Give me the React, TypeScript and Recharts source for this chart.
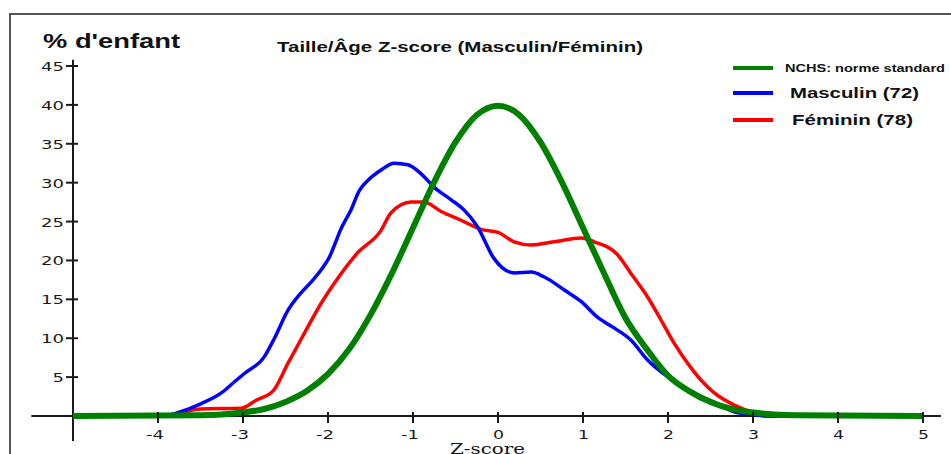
import React from 'react';
import { LineChart, Line, XAxis, YAxis, ReferenceLine, Legend } from 'recharts';

// Tick labels
const xTicks = [-4, -3, -2, -1, 0, 1, 2, 3, 4, 5];
const yTicks = [5, 10, 15, 20, 25, 30, 35, 40, 45];

// Series names
const nchsName = 'NCHS: norme standard';
const masculinName = 'Masculin (72)';
const femininName = 'Féminin (78)';
const legendOrder = [nchsName, masculinName, femininName];

// NCHS standard curve (Z-score, % of children)
const nchsZ = [-5, -3.5, -3.25, -3, -2.75, -2.5, -2.25, -2, -1.75, -1.5, -1.25, -1, -0.75, -0.5, -0.25, 0, 0.25, 0.5, 0.75, 1, 1.25, 1.5, 1.75, 2, 2.25, 2.5, 2.75, 3, 3.25, 3.5, 5];
const nchsPct = [0, 0.1, 0.2, 0.45, 0.9, 1.8, 3.2, 5.4, 8.6, 13, 18.3, 24.2, 30.1, 35.2, 38.7, 39.9, 38.7, 35.2, 30.1, 24.2, 18.3, 12.6, 8.6, 5.2, 3.2, 1.8, 0.9, 0.45, 0.2, 0.1, 0];

// Masculin (72)
const masculinZ = [-5, -3.93, -3.75, -3.49, -3.25, -3.1, -2.98, -2.75, -2.63, -2.47, -2.32, -2.2, -2.08, -1.98, -1.93, -1.85, -1.73, -1.63, -1.53, -1.38, -1.22, -1.06, -0.91, -0.75, -0.55, -0.4, -0.24, -0.05, 0.19, 0.39, 0.54, 0.78, 0.98, 1.17, 1.37, 1.56, 1.76, 2.0, 2.27, 2.54, 2.82, 3.25, 5];
const masculinPct = [0, 0, 0.5, 1.6, 3.0, 4.4, 5.5, 7.6, 10.0, 13.6, 15.8, 17.2, 18.8, 20.5, 21.8, 24.0, 26.5, 29, 30.3, 31.6, 32.5, 32.3, 31.2, 29.4, 27.8, 26.5, 24.3, 20.3, 18.4, 18.5, 17.9, 16.2, 14.7, 12.7, 11.3, 9.8, 7.2, 5.0, 3.1, 1.8, 0.4, 0, 0];

// Féminin (78)
const femininZ = [-5, -3.93, -3.7, -3.5, -3.02, -2.85, -2.64, -2.47, -2.32, -2.08, -1.93, -1.65, -1.38, -1.26, -1.02, -0.87, -0.67, -0.44, -0.2, 0, 0.19, 0.39, 0.66, 0.98, 1.13, 1.41, 1.56, 1.76, 1.92, 2.07, 2.23, 2.39, 2.54, 2.78, 3.01, 3.13, 5];
const femininPct = [0, 0, 0.5, 0.9, 1.0, 2.0, 3.3, 6.8, 9.8, 14.5, 17.0, 21.0, 23.8, 26.1, 27.5, 27.5, 26.3, 25.2, 24.0, 23.6, 22.4, 22.0, 22.4, 22.9, 22.4, 20.7, 18.4, 15.3, 12.3, 9.4, 6.8, 4.6, 3.0, 1.4, 0.4, 0, 0];

const toPoints = (zs: number[], vs: number[]) => zs.map((z, i) => ({ z, pct: vs[i] }));
const nchsData = toPoints(nchsZ, nchsPct);
const masculinData = toPoints(masculinZ, masculinPct);
const femininData = toPoints(femininZ, femininPct);

const AXIS = '#1a1a1a';

const XTick = (props: any) => {
  const { x, y, payload } = props;
  const label = String(payload.value);
  const len = label.length === 2 ? 18 : 11;
  return (
    <g>
      <line x1={x} x2={x} y1={y - 4} y2={y + 7} stroke={AXIS} strokeWidth={2} />
      <text x={x + 6} y={y + 23} textAnchor="end" fontFamily="DejaVu Sans" fontSize={13} fill={AXIS} textLength={len} lengthAdjust="spacingAndGlyphs">{label}</text>
    </g>
  );
};

const YTick = (props: any) => {
  const { x, y, payload } = props;
  const label = String(payload.value);
  return (
    <g>
      <line x1={x - 7} x2={x + 5} y1={y} y2={y} stroke={AXIS} strokeWidth={2} />
      <text x={x - 9} y={y + 5} textAnchor="end" fontFamily="DejaVu Sans" fontSize={13} fill={AXIS} textLength={11.5 * label.length} lengthAdjust="spacingAndGlyphs">{label}</text>
    </g>
  );
};

const legendRows = [
  { lineY: 13, textX: 60, len: 160, size: 10.5 },
  { lineY: 38, textX: 65, len: 129, size: 15 },
  { lineY: 65, textX: 67, len: 121, size: 15 },
];

const LegendContent = (props: any) => {
  const payload: any[] = props.payload || [];
  const items = legendOrder.map((n) => payload.find((p) => p.value === n)).filter(Boolean);
  return (
    <svg width={226} height={80} style={{ display: 'block' }}>
      {items.map((it: any, i: number) => {
        const r = legendRows[i];
        return (
          <g key={it.value}>
            <line x1={8} x2={48} y1={r.lineY} y2={r.lineY} stroke={it.color} strokeWidth={4} />
            <text x={r.textX} y={r.lineY + r.size * 0.36} fontFamily="Liberation Sans" fontWeight="bold" fontSize={r.size} fill="#111" textLength={r.len} lengthAdjust="spacingAndGlyphs">{it.value}</text>
          </g>
        );
      })}
    </svg>
  );
};

export default function App() {
  return (
    <div style={{ position: 'absolute', left: 0, top: 0, width: 951, height: 454, background: '#fff', overflow: 'hidden' }}>
      <LineChart width={951} height={454} margin={{ top: 66, right: 28, bottom: 0, left: 0 }}>
        <XAxis
          type="number"
          dataKey="z"
          domain={[-5, 5]}
          ticks={xTicks}
          interval={0}
          axisLine={false}
          tickLine={false}
          tickSize={0}
          tickMargin={0}
          height={38}
          tick={<XTick />}
          allowDuplicatedCategory={false}
        />
        <YAxis
          type="number"
          domain={[0, 45]}
          ticks={yTicks}
          interval={0}
          axisLine={false}
          tickLine={false}
          tickSize={0}
          tickMargin={0}
          width={73}
          tick={<YTick />}
        />
        <ReferenceLine segment={[{ x: -5.49, y: 0 }, { x: 5.21, y: 0 }]} stroke={AXIS} strokeWidth={2} ifOverflow="visible" />
        <ReferenceLine segment={[{ x: -5, y: -3.2 }, { x: -5, y: 45.8 }]} stroke={AXIS} strokeWidth={2} ifOverflow="visible" />
        <Legend
          layout="vertical"
          align="center"
          verticalAlign="middle"
          content={<LegendContent />}
          wrapperStyle={{ position: 'absolute', left: 725, top: 55, width: 226, height: 80 }}
        />
        <Line data={femininData} dataKey="pct" name={femininName} type="monotone" stroke="#ff0000" strokeWidth={3.5} dot={false} activeDot={false} isAnimationActive={false} strokeLinejoin="round" />
        <Line data={masculinData} dataKey="pct" name={masculinName} type="monotone" stroke="#0000ff" strokeWidth={3.5} dot={false} activeDot={false} isAnimationActive={false} strokeLinejoin="round" />
        <Line data={nchsData} dataKey="pct" name={nchsName} type="monotone" stroke="#008000" strokeWidth={6} dot={false} activeDot={false} isAnimationActive={false} strokeLinejoin="round" />
      </LineChart>
      <svg width={951} height={454} style={{ position: 'absolute', left: 0, top: 0, pointerEvents: 'none' }}>
        <path d="M10 454 L10 14 L951 14" fill="none" stroke="#555" strokeWidth={2} />
        <text x={43} y={48} fontFamily="Liberation Sans" fontWeight="bold" fontSize={20} fill="#111" textLength={137} lengthAdjust="spacingAndGlyphs">% d'enfant</text>
        <text x={277} y={52} fontFamily="Liberation Sans" fontWeight="bold" fontSize={15} fill="#111" textLength={366} lengthAdjust="spacingAndGlyphs">Taille/Âge Z-score (Masculin/Féminin)</text>
        <text x={450} y={454} fontFamily="DejaVu Serif" fontSize={14} fill="#111" textLength={75} lengthAdjust="spacingAndGlyphs">Z-score</text>
      </svg>
    </div>
  );
}
